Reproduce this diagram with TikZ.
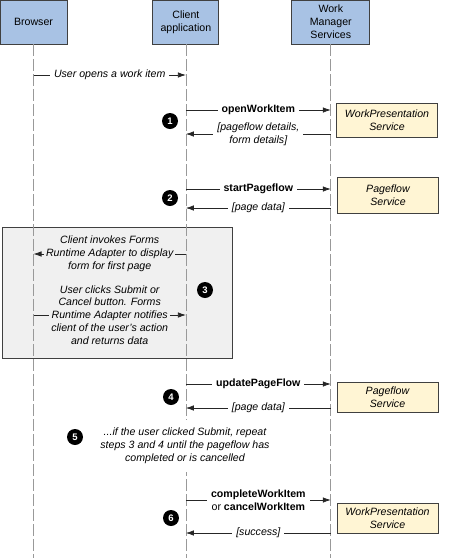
\documentclass[tikz,border=0pt]{standalone}
\usepackage{fontspec}
\setmainfont{Liberation Sans}
\usetikzlibrary{positioning,arrows.meta}

\definecolor{headblue}{RGB}{168,194,228}
\definecolor{svccream}{RGB}{255,245,212}
\definecolor{stepgray}{RGB}{240,240,240}
\definecolor{edgegray}{RGB}{64,64,64}
\newcommand{\diagfont}{\fontsize{10.6}{12.8}\selectfont}

\begin{document}
\begin{tikzpicture}[x=1pt, y=-1pt,
  >={Latex[length=8pt,width=5.5pt]},
  actor/.style={rectangle, draw=edgegray, line width=0.9pt, fill=headblue, minimum height=44pt, align=center, inner sep=1pt, font=\diagfont},
  service/.style={rectangle, draw=edgegray, line width=0.9pt, fill=svccream, minimum width=101pt, align=center, inner sep=1pt, font=\diagfont\itshape},
  stepbox/.style={rectangle, draw=edgegray, line width=0.9pt, fill=stepgray},
  lifeline/.style={draw=black!40, line width=0.7pt, dash pattern=on 12pt off 3pt},
  msg/.style={draw=black!85, line width=0.7pt},
  call/.style={fill=white, inner sep=4pt, font=\diagfont\bfseries, align=center},
  answer/.style={fill=white, inner sep=4pt, font=\diagfont\itshape, align=center},
  stepnum/.style={circle, fill=black, text=white, font=\fontsize{9.5}{10}\selectfont\bfseries, inner sep=0pt, minimum size=16pt}
]
\useasboundingbox (0,0) rectangle (450,558);

% Forms step box (behind the lifelines)
\node[stepbox, minimum width=230pt, minimum height=131pt] (formbox) at (117,292.5) {};

% Participants
\node[actor, minimum width=67pt] (browser) at (33.5,22) {Browser};
\node[actor, minimum width=66pt, right=85pt of browser] (client) {Client\\application};
\node[actor, minimum width=78pt, right=72pt of client] (wms) {Work\\Manager\\Services};

% Lifelines
\coordinate (bottom) at (0,558);
\draw[lifeline] (browser.south) -- (browser.south |- bottom);
\draw[lifeline] (client.south) -- (client.south |- bottom);
\draw[lifeline] (wms.south) -- (wms.south |- bottom);

% Message rows
\coordinate (open) at (0,75);
\coordinate (call1) at (0,110);
\coordinate (reply1) at (0,134);
\coordinate (call2) at (0,189);
\coordinate (reply2) at (0,208);
\coordinate (show) at (0,254);
\coordinate (submit) at (0,315);
\coordinate (call4) at (0,384);
\coordinate (reply4) at (0,408);
\coordinate (call6) at (0,500);
\coordinate (reply6) at (0,533);

% User opens a work item
\draw[msg, ->] (browser.south |- open) -- node[answer] {User opens a work item} (client.south |- open);

% Step 1
\draw[msg, ->] (client.south |- call1) -- node[call] {openWorkItem} (wms.south |- call1);
\draw[msg, <-] (client.south |- reply1) -- node[answer] {[pageflow details,\\form details]} (wms.south |- reply1);
\node[service, minimum height=34pt] (wps1) at (387,120) {WorkPresentation\\Service};
\node[stepnum] (num1) at (170,121) {1};

% Step 2
\draw[msg, ->] (client.south |- call2) -- node[call] {startPageflow} (wms.south |- call2);
\draw[msg, <-] (client.south |- reply2) -- node[answer] {[page data]} (wms.south |- reply2);
\node[service, minimum height=36pt] (pfs2) at (388,195) {Pageflow\\Service};
\node[stepnum] (num2) at (170,198) {2};

% Step 3
\draw[msg, <-] (browser.south |- show) -- node[answer, fill=stepgray, inner sep=2pt] {Client invokes Forms\\Runtime Adapter to display\\form for first page} (client.south |- show);
\draw[msg, ->] (browser.south |- submit) -- node[answer, fill=stepgray, inner sep=2pt] {User clicks Submit or\\Cancel button. Forms\\Runtime Adapter notifies\\client of the user's action\\and returns data} (client.south |- submit);
\node[stepnum] (num3) at (205,290) {3};

% Step 4
\draw[msg, ->] (client.south |- call4) -- node[call] {updatePageFlow} (wms.south |- call4);
\draw[msg, <-] (client.south |- reply4) -- node[answer] {[page data]} (wms.south |- reply4);
\node[service, minimum height=30pt] (pfs4) at (387.5,397) {Pageflow\\Service};
\node[stepnum] (num4) at (171,397) {4};

% Step 5
\node[answer, inner sep=8pt] (repeat) at (185,446) {...if the user clicked Submit, repeat\\steps 3 and 4 until the pageflow has\\completed or is cancelled};
\node[stepnum] (num5) at (75,437) {5};

% Step 6
\draw[msg, ->] (client.south |- call6) -- node[call] {completeWorkItem\\\mdseries or \bfseries cancelWorkItem} (wms.south |- call6);
\draw[msg, <-] (client.south |- reply6) -- node[answer] {[success]} (wms.south |- reply6);
\node[service, minimum height=30pt] (wps6) at (387.5,518) {WorkPresentation\\Service};
\node[stepnum] (num6) at (171,518) {6};
\end{tikzpicture}
\end{document}
